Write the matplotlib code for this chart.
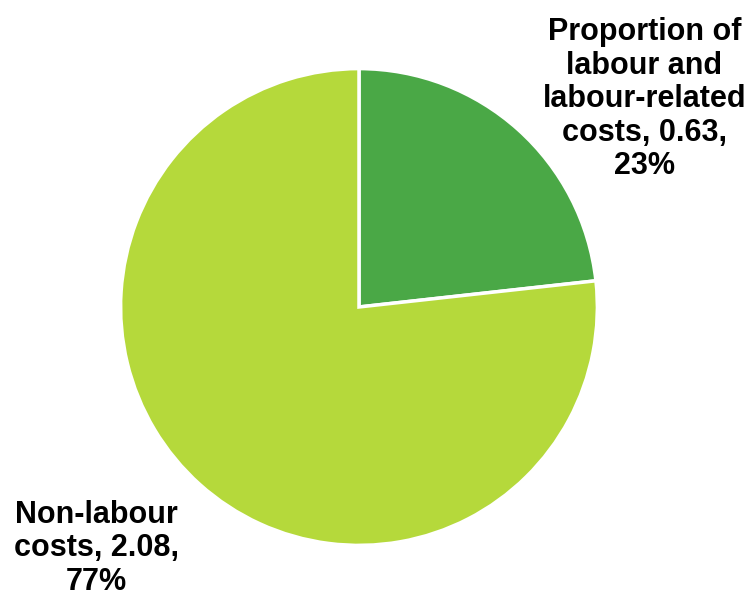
import matplotlib.pyplot as plt

plt.rcParams['font.family'] = ['Liberation Sans', 'DejaVu Sans']

# cost split
names = ['Proportion of\nlabour and\nlabour-related\ncosts', 'Non-labour\ncosts']
values = [0.63, 2.08]
colors = ['#4aa846', '#b5d93b']

total = sum(values)
pcts = [round(v / total * 100) for v in values]

fig = plt.figure(figsize=(7.5, 6.01), dpi=100)
ax = fig.add_axes([0.164, 0.0965, 0.6293, 0.7854])
ax.pie(values, colors=colors, startangle=90, counterclock=False,
       wedgeprops=dict(edgecolor='white', linewidth=2.5))
ax.set_xlim(-0.99, 0.99)
ax.set_ylim(-0.99, 0.99)
ax.set_aspect('equal')

def label(i):
    return f"{names[i]}, {values[i]:.2f},\n{pcts[i]}%"

fig.text(0.859, 0.835, label(0), ha='center', va='center',
         fontsize=22, fontweight='bold', linespacing=1.15)
fig.text(0.128, 0.088, label(1), ha='center', va='center',
         fontsize=22, fontweight='bold', linespacing=1.15)

fig.savefig('out.png')
